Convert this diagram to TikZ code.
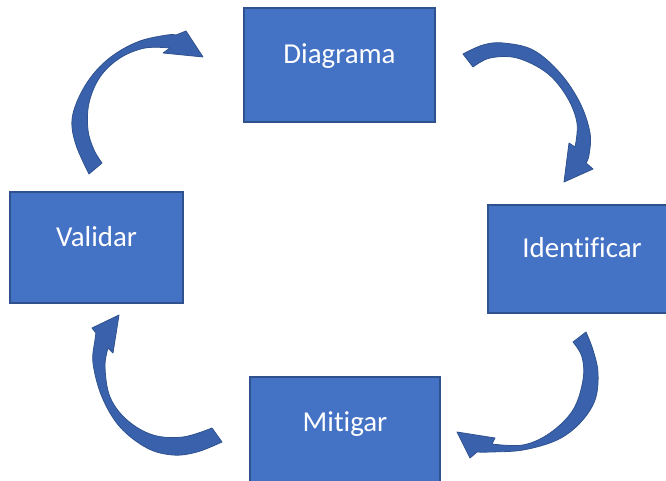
\documentclass[tikz,border=0pt]{standalone}
\usepackage{fontspec}
\setmainfont[Ligatures=NoCommon]{Carlito}
\definecolor{boxblue}{HTML}{4472C4}
\definecolor{boxedge}{HTML}{2F528F}
\definecolor{bendblue}{HTML}{3A62AC}
\begin{document}
\begin{tikzpicture}[x=1bp, y=-1bp,
  stepbox/.style={draw=boxedge, fill=boxblue, line width=1.5bp, text=white,
    font=\fontsize{29}{34}\selectfont, text height=12bp, text depth=14bp},
  bentarrow/.style={draw=boxedge, fill=bendblue, line width=0.8bp, line join=round}]
\clip (0,0) rectangle (666,481);
% the four steps
\node[stepbox, minimum width=191bp, minimum height=114bp] (diag) at (339.5, 65) {Diagrama};
\node[stepbox, minimum width=188bp, minimum height=108bp] (ident) at (582, 259) {Identificar};
\node[stepbox, minimum width=190bp, minimum height=110bp] (mitig) at (345, 432) {Mitigar};
\node[stepbox, minimum width=173bp, minimum height=111bp] (valid) at (96.5, 247.5) {Validar};
% curved arrows
\filldraw[bentarrow] plot[smooth, tension=0.6] coordinates {(89,174) (76,145) (72,120) (80,95) (95,72) (115,54) (140,41) (167,35) (176,35)}
  -- (186,31) -- (203,57) -- (163,53) -- (170,48)
  -- plot[smooth, tension=0.6] coordinates {(170,48) (145,48) (120,58) (100,77) (89,103) (88,130) (94,150) (102,163)} -- cycle;
\filldraw[bentarrow] plot[smooth, tension=0.6] coordinates {(463,54) (483,45) (503,43) (533,50) (560,73) (580,103) (590,133) (589,155) (586,163)}
  -- (593,169) -- (564,182) -- (569,143) -- (575,147)
  -- plot[smooth, tension=0.6] coordinates {(575,147) (577,123) (567,97) (547,73) (517,58) (490,58) (473,67)} -- cycle;
\filldraw[bentarrow] plot[smooth, tension=0.6] coordinates {(586,332) (593,350) (598,373) (595,400) (580,423) (557,440) (523,450) (490,452) (477,452)}
  -- (470,458) -- (457,432) -- (495,438) -- (492,444)
  -- plot[smooth, tension=0.6] coordinates {(492,444) (523,445) (550,433) (573,410) (583,380) (582,357) (573,342)} -- cycle;
\filldraw[bentarrow] plot[smooth, tension=0.6] coordinates {(222,442) (197,452) (173,455) (147,448) (120,427) (102,397) (93,363) (95,340) (96,333)}
  -- (92,328) -- (119,315) -- (113,353) -- (108,348)
  -- plot[smooth, tension=0.6] coordinates {(108,348) (105,367) (110,397) (127,420) (153,435) (183,437) (212,428)} -- cycle;
\end{tikzpicture}
\end{document}
